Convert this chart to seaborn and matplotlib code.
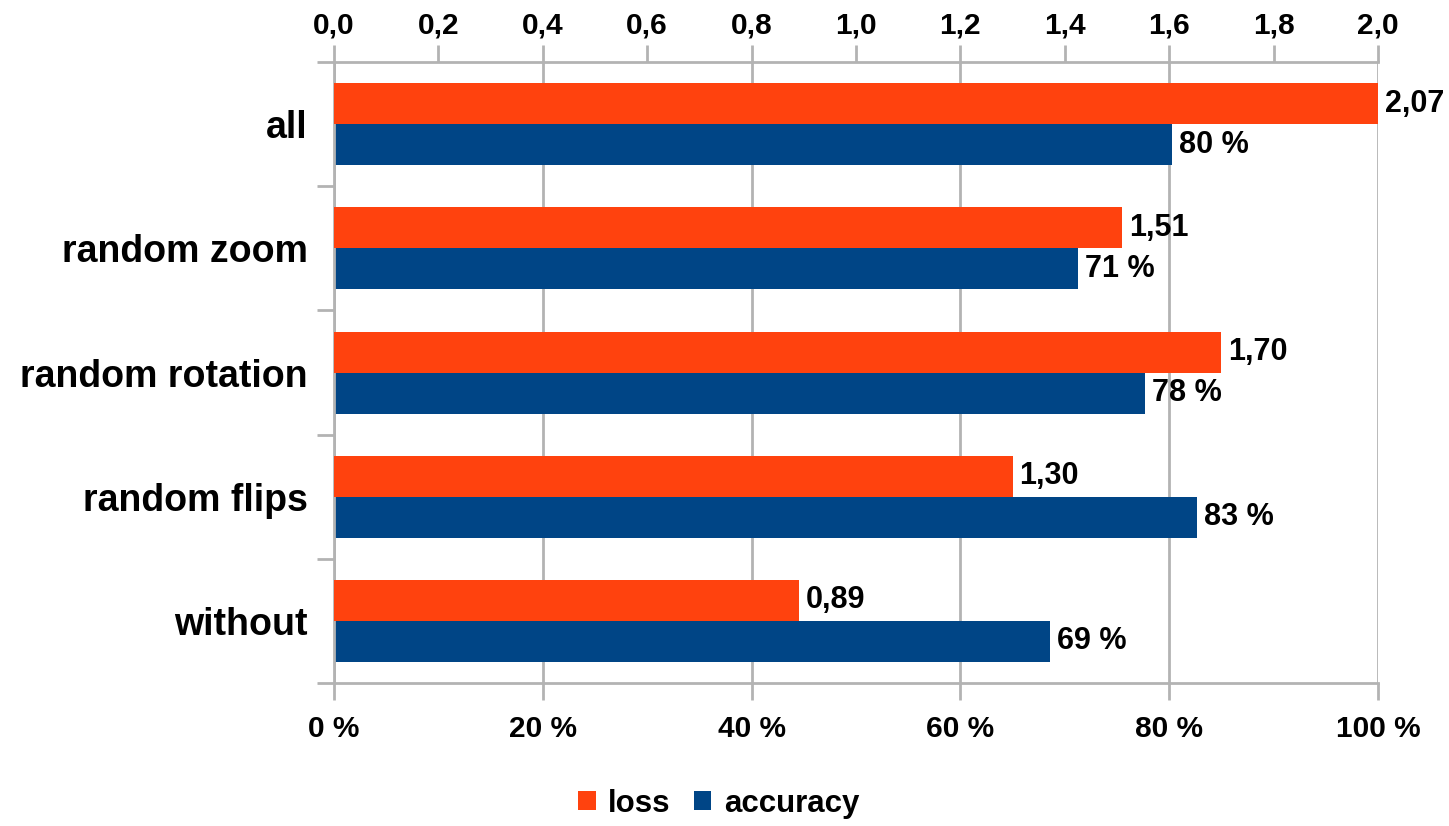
import matplotlib
matplotlib.use("Agg")
import matplotlib.pyplot as plt
from matplotlib.ticker import FuncFormatter, MultipleLocator, FixedLocator
from matplotlib.patches import Patch
import seaborn as sns
import pandas as pd

categories = ["all", "random zoom", "random rotation", "random flips", "without"]
loss = [2.07, 1.51, 1.70, 1.30, 0.89]
accuracy = [80.3, 71.3, 77.7, 82.7, 68.6]
loss_labels = ["2,07", "1,51", "1,70", "1,30", "0,89"]
acc_labels = ["80 %", "71 %", "78 %", "83 %", "69 %"]
series = ["loss", "accuracy"]
colors = {"loss": "#FF420E", "accuracy": "#004586"}

sns.set_theme(style="white")
plt.rcParams["font.family"] = ["Liberation Sans", "DejaVu Sans"]
plt.rcParams["font.weight"] = "bold"
plt.rcParams["text.color"] = "black"

df = pd.DataFrame({
    "cat": categories * 2,
    "metric": ["loss"] * len(categories) + ["accuracy"] * len(categories),
    "value": loss + accuracy,
})

fig = plt.figure(figsize=(14.49, 8.26), dpi=100)
ax = fig.add_axes([0.2305, 0.173, 0.7205, 0.752])
ax2 = ax.twiny()

grid_c = "#b3b3b3"
sns.barplot(data=df[df.metric == "accuracy"], y="cat", x="value", hue="metric",
            hue_order=series, order=categories, palette=colors, dodge=True,
            width=0.66, ax=ax, legend=False, saturation=1, linewidth=0)
sns.barplot(data=df[df.metric == "loss"], y="cat", x="value", hue="metric",
            hue_order=series, order=categories, palette=colors, dodge=True,
            width=0.66, ax=ax2, legend=False, saturation=1, linewidth=0)

ax.set_xlim(0, 100)
ax2.set_xlim(0, 2.0)
ax.set_ylim(len(categories) - 0.5, -0.5)
ax2.set_ylim(len(categories) - 0.5, -0.5)

for a in (ax, ax2):
    a.set_xlabel("")
    a.set_ylabel("")
    for s in a.spines.values():
        s.set_visible(False)

ax2.patch.set_visible(False)
ax.set_axisbelow(True)

# bottom axis
ax.xaxis.set_major_locator(MultipleLocator(20))
ax.xaxis.set_major_formatter(FuncFormatter(lambda v, p: f"{v:.0f} %"))
ax.grid(axis="x", color=grid_c, linewidth=2, zorder=0)
ax.spines["bottom"].set_visible(True)
ax.spines["bottom"].set_color(grid_c)
ax.spines["bottom"].set_linewidth(2)
ax.spines["left"].set_visible(True)
ax.spines["left"].set_color(grid_c)
ax.spines["left"].set_linewidth(2)
ax.tick_params(axis="x", which="major", bottom=True, length=12, width=2,
               color=grid_c, pad=11, labelsize=21.5, labelcolor="black")

# category ticks at boundaries
ax.yaxis.set_major_locator(FixedLocator(range(len(categories))))
ax.set_yticklabels(categories, fontsize=27, fontweight="bold", color="black")
ax.yaxis.set_minor_locator(FixedLocator([i - 0.5 for i in range(len(categories) + 1)]))
ax.tick_params(axis="y", which="major", left=False, length=0, pad=19)
ax.tick_params(axis="y", which="minor", left=True, length=12, width=2, color=grid_c)

# top axis
ax2.xaxis.set_major_locator(MultipleLocator(0.2))
ax2.xaxis.set_major_formatter(FuncFormatter(lambda v, p: f"{v:.1f}".replace(".", ",")))
ax2.spines["top"].set_visible(True)
ax2.spines["top"].set_color(grid_c)
ax2.spines["top"].set_linewidth(2)
ax2.tick_params(axis="x", which="major", top=True, length=12, width=2,
                color=grid_c, pad=4, labelsize=21.5, labelcolor="black")
ax2.grid(False)
ax2.tick_params(axis="y", left=False, right=False, labelleft=False, labelright=False)

for lbl in ax.get_xticklabels() + ax2.get_xticklabels():
    lbl.set_fontweight("bold")

# value labels
off = 0.66 / 4
for i, (v, t) in enumerate(zip(loss, loss_labels)):
    ax2.annotate(t, xy=(min(v, 2.0), i - off), xytext=(5, 0), textcoords="offset points",
                 va="center", ha="left", fontsize=22, fontweight="bold",
                 color="black", annotation_clip=False)
for i, (v, t) in enumerate(zip(accuracy, acc_labels)):
    ax.annotate(t, xy=(v, i + off), xytext=(5, 0), textcoords="offset points",
                va="center", ha="left", fontsize=22, fontweight="bold",
                color="black", annotation_clip=False)

handles = [Patch(facecolor=colors[s], edgecolor="none", label=s) for s in series]
leg = fig.legend(handles=handles, loc="center", bbox_to_anchor=(0.496, 0.027), ncol=2,
                 frameon=False, fontsize=22.5, handlelength=0.55, handleheight=0.55,
                 handletextpad=0.4, columnspacing=0.75)
for t in leg.get_texts():
    t.set_fontweight("bold")
    t.set_color("black")

fig.savefig("out.png", dpi=100)
